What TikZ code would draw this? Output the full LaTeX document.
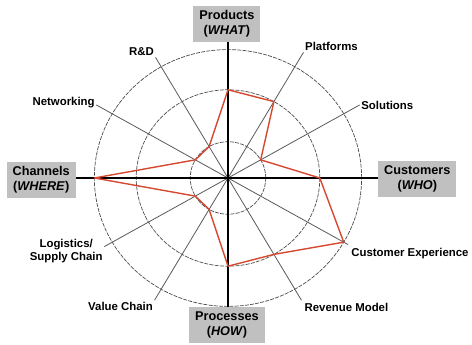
\documentclass[tikz,border=0pt]{standalone}
\usepackage{fontspec}
\setmainfont{Liberation Sans}
\usetikzlibrary{positioning}
\definecolor{polyred}{RGB}{214,72,48}
\definecolor{boxgray}{RGB}{192,192,192}

\begin{document}
\begin{tikzpicture}[x=1.02pt,y=0.98pt]

\tikzset{catbox/.style={fill=boxgray,font=\fontsize{12.7}{15}\selectfont\bfseries,align=center,inner xsep=6pt,inner ysep=4.5pt},
spokelabel/.style={font=\fontsize{11.4}{13}\selectfont\bfseries,align=center,inner sep=1.5pt},
axisline/.style={black,line width=1.3pt},
spokeline/.style={black!65,line width=0.8pt},
ring/.style={black!70,line width=0.7pt,dash pattern=on 4pt off 1.2pt},
score/.style={polyred,line width=1.4pt,line join=round}}

\useasboundingbox (-223.5,-170.4) rectangle (239.2,181.6);

% Centre
\coordinate (c) at (0,0);

% Rings
\foreach \r in {37,90,131} \draw[ring] (c) circle (\r);

% Spokes
\foreach \a/\l/\n in {120/142/rd,150/149/net,60/148/plat,30/149/sol,-30/136/cx,-60/144/rev,-120/144/val,-150/140/log}
  \coordinate (\n) at (\a:\l);
\foreach \n in {rd,net,plat,sol,cx,rev,val,log} \draw[spokeline] (c) -- (\n);

% Spoke labels
\node[spokelabel,anchor=south east] (rdlab) at (rd) {R\&D};
\node[spokelabel,anchor=east,yshift=2pt] (netlab) at (net) {Networking};
\node[spokelabel,anchor=south west] (platlab) at (plat) {Platforms};
\node[spokelabel,anchor=west] (sollab) at (sol) {Solutions};
\node[spokelabel,anchor=north west,inner sep=3pt] (cxlab) at (cx) {Customer Experience};
\node[spokelabel,anchor=north west,inner sep=3pt] (revlab) at (rev) {Revenue Model};
\node[spokelabel,anchor=north east] (vallab) at (val) {Value Chain};
\node[spokelabel,anchor=east,yshift=-4pt] (loglab) at (log) {Logistics/\\Supply Chain};

% Category boxes
\node[catbox,anchor=south] (what) at (-1,138.8) {Products\\(\textit{WHAT})};
\node[catbox,anchor=north] (how) at (-1,-131.6) {Processes\\(\textit{HOW})};
\node[catbox,anchor=east] (where) at (-149,-2) {Channels\\(\textit{WHERE})};
\node[catbox,anchor=west] (who) at (147,-1) {Customers\\(\textit{WHO})};

% Axes
\draw[axisline] (c |- what.south) -- (c |- how.north);
\draw[axisline] (c -| where.east) -- (c -| who.west);

% Profile
\draw[score] (90:90) -- (60:90) -- (30:37) -- (0:90) -- (-30:131) -- (-60:90) -- (-90:90)
  -- (-120:37) -- (-150:37) -- (180:131) -- (150:37) -- (120:37) -- cycle;

\end{tikzpicture}
\end{document}
